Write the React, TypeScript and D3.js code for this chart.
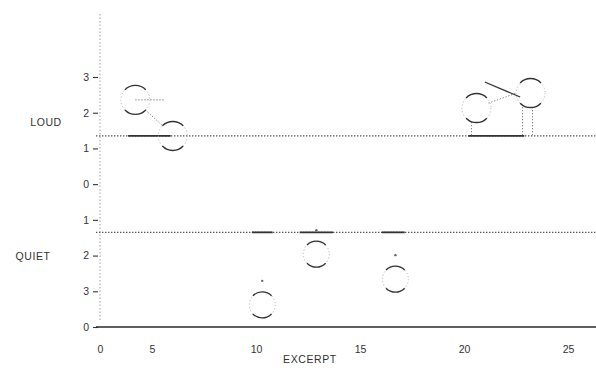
import React, { useRef, useEffect } from 'react';
import * as d3 from 'd3';

// loud excerpts (upper panel)
const loudExcerpt = [4.2, 6.0, 20.6, 23.2];
const loudRating = [2.36, 1.35, 2.13, 2.55];
const loudBands: [number, number][] = [[3.85, 5.9], [20.2, 22.9]];

// quiet excerpts (lower panel, plotted downward)
const quietExcerpt = [10.3, 12.9, 16.7];
const quietRating = [3.38, 1.96, 2.66];
const quietBands: [number, number][] = [[9.8, 10.8], [12.1, 13.7], [16.05, 17.15]];

const loudBase = 1.35;
const quietBase = 1.35;

// axis ticks (the "0" on the x axis sits on the y axis)
const xTickValues = [2.5, 5, 10, 15, 20, 25];
const xTickLabels = ['0', '5', '10', '15', '20', '25'];
const yTickValues = [3, 2, 1, 0, -1, -2, -3, -4];
const yTickLabels = ['3', '2', '1', '0', '1', '2', '3', '0'];

const App = () => {
    const svgRef = useRef<SVGSVGElement>(null);

    useEffect(() => {
        const svg = d3.select(svgRef.current);
        svg.selectAll('*').remove();

        const width = 596;
        const font = '"Liberation Sans", Arial, sans-serif';
        const ink = '#333';

        const x = d3.scaleLinear().domain([0, 26]).range([48, 48 + 26 * 20.8]);
        const y = d3.scaleLinear().domain([3, -4]).range([77, 327]);
        const yQ = (q: number) => y(-q);

        const xLeft = 96;
        const xRight = width;

        // y axis: faint dotted vertical line
        svg.append('line')
            .attr('x1', x(2.5)).attr('x2', x(2.5))
            .attr('y1', 14).attr('y2', 320)
            .attr('stroke', '#9a9a9a').attr('stroke-width', 0.9)
            .attr('stroke-dasharray', '1.5,2');

        const yAxis = svg.append('g')
            .attr('transform', `translate(${x(2.5) - 2},0)`)
            .call(d3.axisLeft(y).tickValues(yTickValues).tickSize(5).tickPadding(4)
                .tickFormat((d, i) => yTickLabels[i]));
        yAxis.select('.domain').remove();
        yAxis.selectAll('line').attr('stroke', ink).attr('stroke-width', 1.1);
        yAxis.selectAll('text').attr('fill', ink).attr('font-family', font).attr('font-size', 10.5);

        // x axis: solid baseline, labels only
        svg.append('line')
            .attr('x1', xLeft).attr('x2', xRight)
            .attr('y1', y(-4)).attr('y2', y(-4))
            .attr('stroke', '#2a2a2a').attr('stroke-width', 1.6);

        const xAxis = svg.append('g')
            .attr('transform', `translate(0,${y(-4)})`)
            .call(d3.axisBottom(x).tickValues(xTickValues).tickSize(0).tickPadding(19)
                .tickFormat((d, i) => xTickLabels[i]));
        xAxis.select('.domain').remove();
        xAxis.selectAll('text').attr('fill', ink).attr('font-family', font).attr('font-size', 10.5);

        svg.append('text')
            .attr('x', 310).attr('y', 363)
            .attr('text-anchor', 'middle')
            .attr('font-family', font).attr('font-size', 10.5)
            .attr('letter-spacing', 0.6)
            .attr('fill', ink)
            .text('EXCERPT');

        svg.append('text').attr('x', 46).attr('y', 126).attr('text-anchor', 'middle')
            .attr('font-family', font).attr('font-size', 10.5).attr('letter-spacing', 0.6)
            .attr('fill', ink).text('LOUD');
        svg.append('text').attr('x', 33).attr('y', 260).attr('text-anchor', 'middle')
            .attr('font-family', font).attr('font-size', 10.5).attr('letter-spacing', 0.6)
            .attr('fill', ink).text('QUIET');

        // dotted reference lines
        [y(loudBase), yQ(quietBase)].forEach(yy => {
            svg.append('line')
                .attr('x1', xLeft).attr('x2', xRight)
                .attr('y1', yy).attr('y2', yy)
                .attr('stroke', '#555').attr('stroke-width', 1.2)
                .attr('stroke-dasharray', '1.4,1.6');
        });

        // solid bands on the reference lines
        const bandG = svg.append('g').attr('stroke', '#333').attr('stroke-width', 1.8);
        loudBands.forEach(b => bandG.append('line')
            .attr('x1', x(b[0])).attr('x2', x(b[1]))
            .attr('y1', y(loudBase)).attr('y2', y(loudBase)));
        quietBands.forEach(b => bandG.append('line')
            .attr('x1', x(b[0])).attr('x2', x(b[1]))
            .attr('y1', yQ(quietBase)).attr('y2', yQ(quietBase)));

        // faded photocopy-style circle: faint dotted ring + dark top/bottom arcs
        const ring = (cx: number, cy: number, r: number) => {
            svg.append('circle')
                .attr('cx', cx).attr('cy', cy).attr('r', r)
                .attr('fill', 'none').attr('stroke', '#aaa')
                .attr('stroke-width', 0.8).attr('stroke-dasharray', '1.2,2.2');
            [-Math.PI / 2, Math.PI / 2].forEach(mid => {
                const p = d3.path();
                const a0 = mid - 0.8;
                const a1 = mid + 0.8;
                p.moveTo(cx + r * Math.cos(a0), cy + r * Math.sin(a0));
                p.arc(cx, cy, r, a0, a1);
                svg.append('path')
                    .attr('d', p.toString())
                    .attr('fill', 'none').attr('stroke', '#333')
                    .attr('stroke-width', 1.4);
            });
        };

        const dotted = (x1: number, y1: number, x2: number, y2: number) =>
            svg.append('line')
                .attr('x1', x1).attr('y1', y1).attr('x2', x2).attr('y2', y2)
                .attr('stroke', '#777').attr('stroke-width', 1)
                .attr('stroke-dasharray', '1.2,1.8');

        // loud: connectors between paired excerpts
        dotted(x(loudExcerpt[0]) + 10, y(loudRating[0]) + 10, x(loudExcerpt[1]) - 10, y(loudRating[1]) - 10);
        dotted(x(loudExcerpt[2]) + 12, y(loudRating[2]) - 5, x(loudExcerpt[3]) - 14, y(loudRating[3]));
        dotted(x(loudExcerpt[0]), y(loudRating[0]), x(5.6), y(loudRating[0]));
        dotted(x(loudExcerpt[2]) - 5, y(loudRating[2]) + 14, x(loudExcerpt[2]) - 5, y(loudBase));
        dotted(x(loudExcerpt[3]) - 8, y(loudRating[3]) + 14, x(loudExcerpt[3]) - 8, y(loudBase));
        dotted(x(loudExcerpt[3]) + 2, y(loudRating[3]) + 14, x(loudExcerpt[3]) + 2, y(loudBase));

        // short solid slope stroke near the last loud pair
        svg.append('line')
            .attr('x1', x(21.0)).attr('y1', y(2.86))
            .attr('x2', x(22.7)).attr('y2', y(2.44))
            .attr('stroke', '#333').attr('stroke-width', 1.3);

        loudExcerpt.forEach((e, i) => ring(x(e), y(loudRating[i]), 14.5));
        quietExcerpt.forEach((e, i) => ring(x(e), yQ(quietRating[i]), 13));

        // small specks above the quiet circles
        quietExcerpt.forEach((e, i) => svg.append('circle')
            .attr('cx', x(e)).attr('cy', yQ(quietRating[i]) - 24)
            .attr('r', 1.2).attr('fill', '#666'));
    }, []);

    return <svg ref={svgRef} width={596} height={382} style={{ position: 'absolute', left: 0, top: 0, background: '#fff' }}></svg>;
};

export default App;
